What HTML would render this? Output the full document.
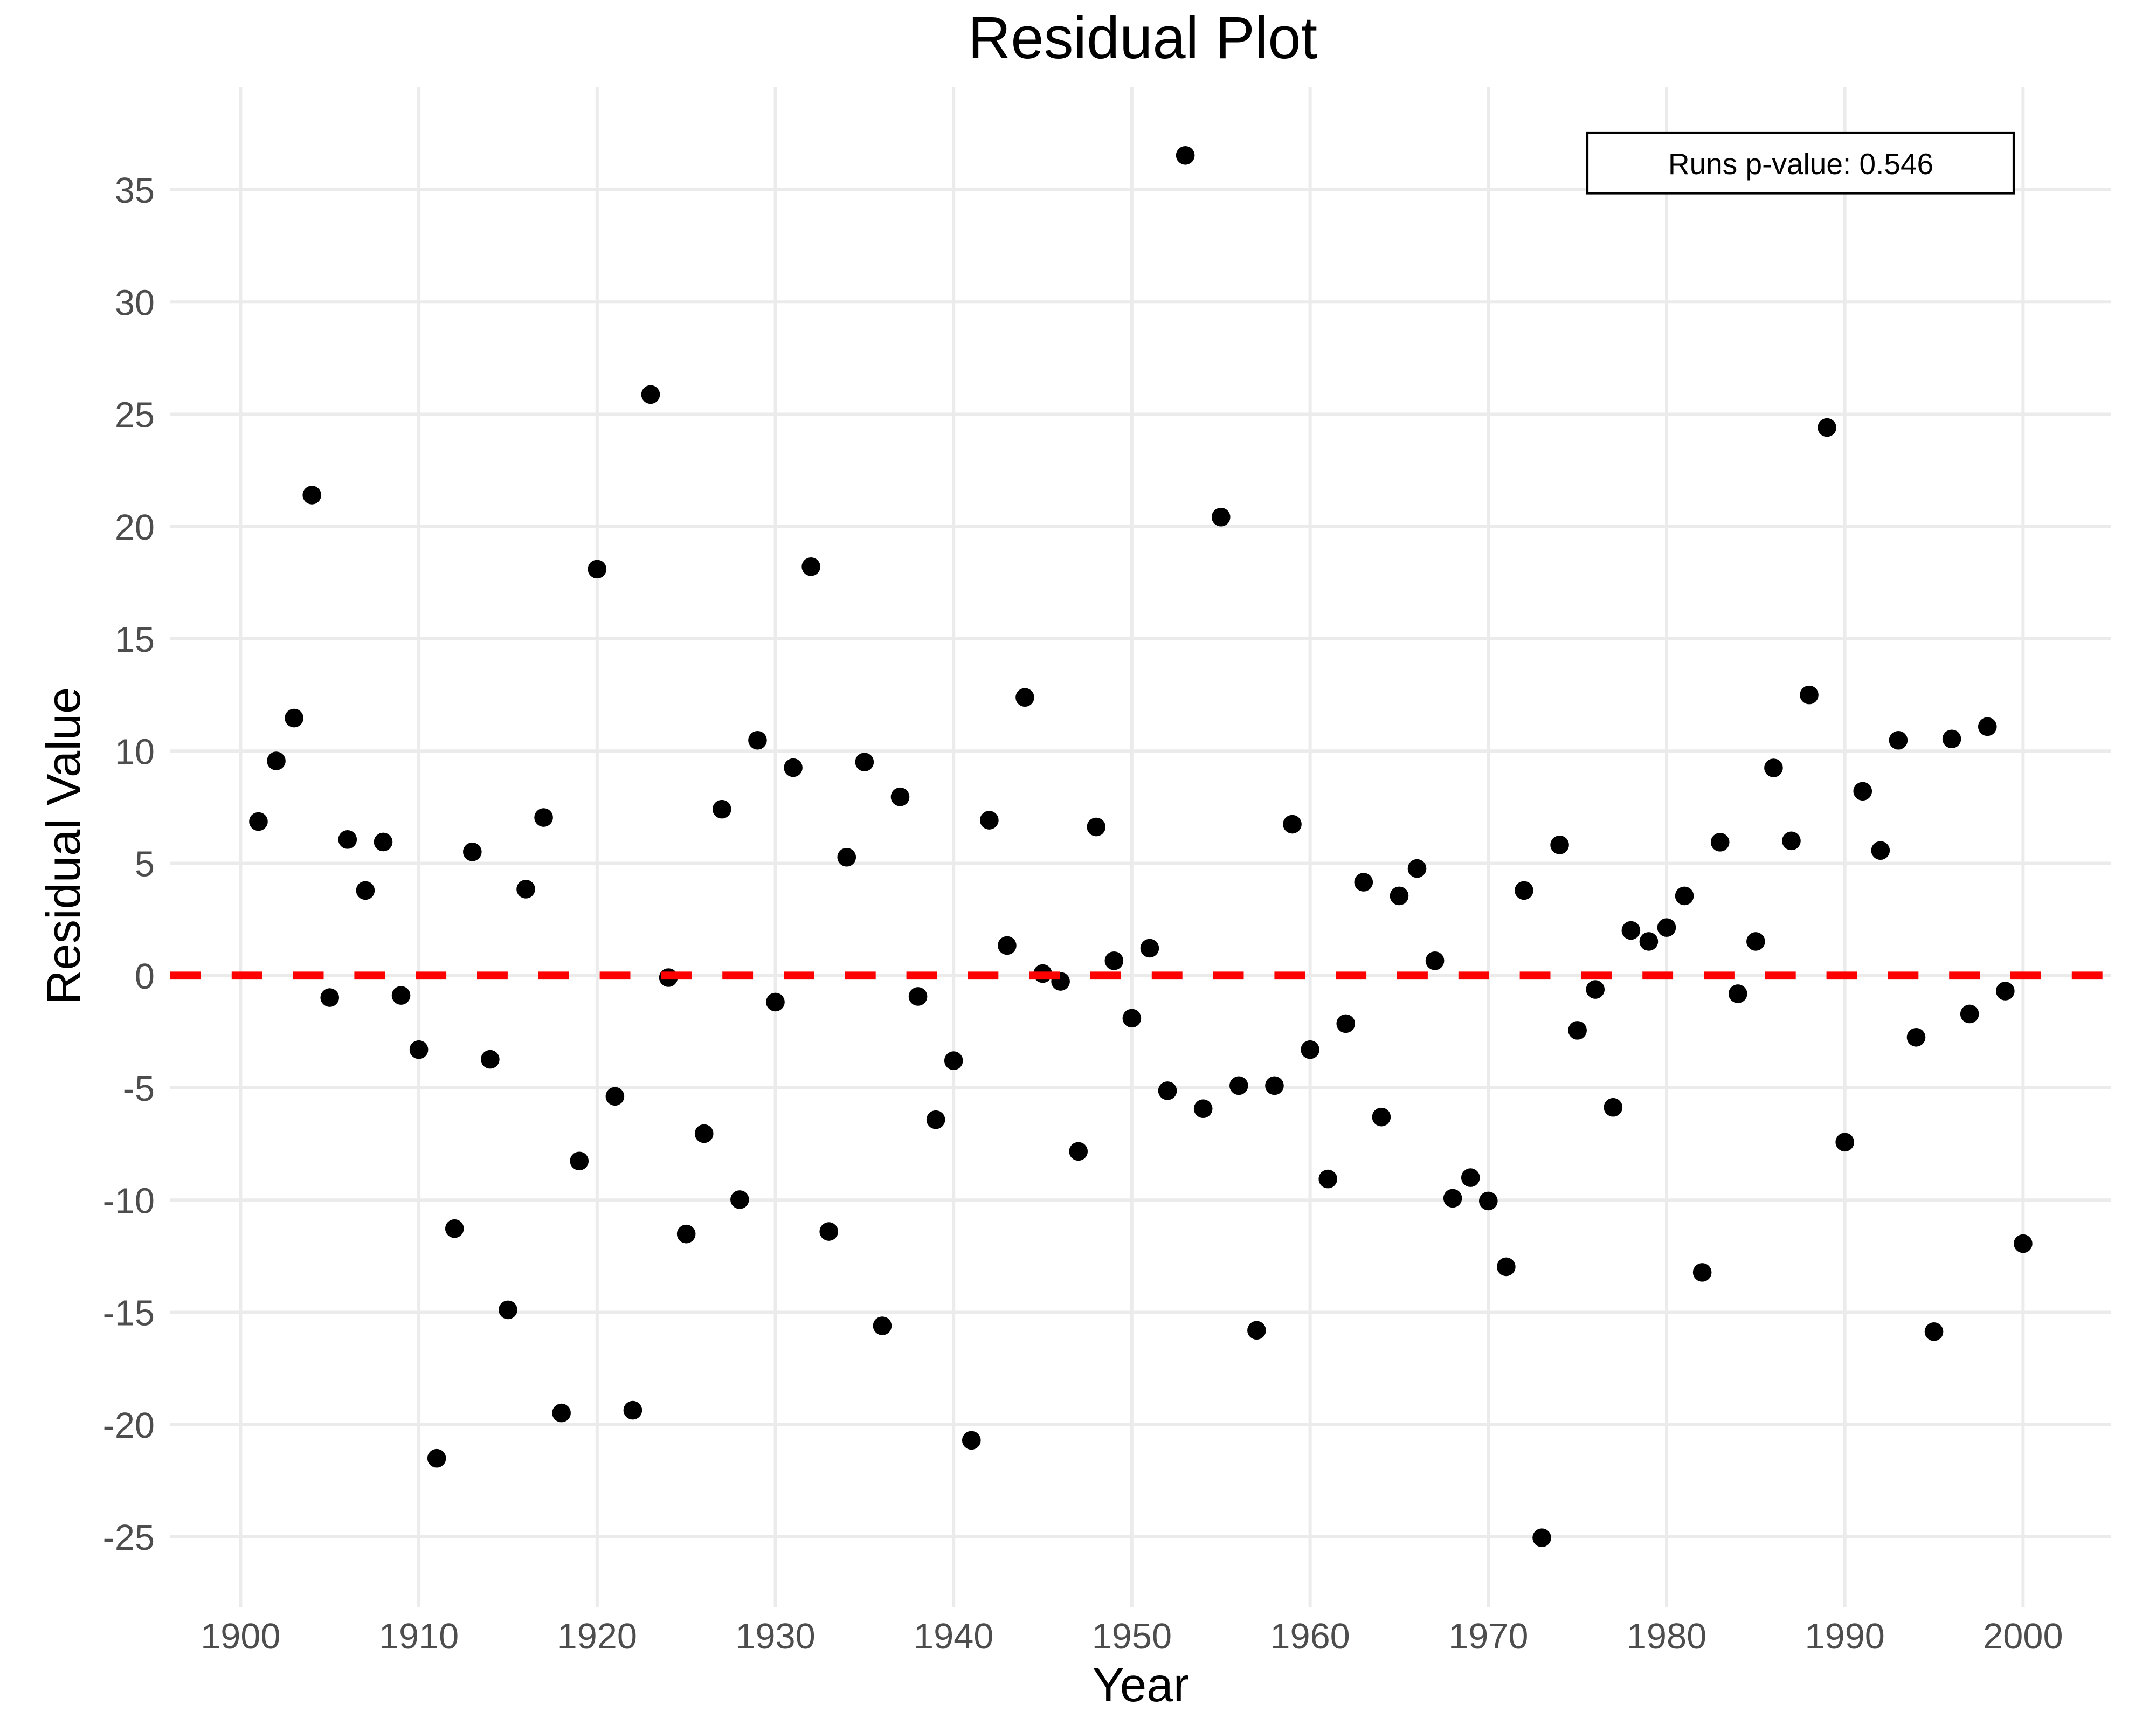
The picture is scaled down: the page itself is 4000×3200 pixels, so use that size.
<!DOCTYPE html>
<html lang="en">
<head>
<meta charset="utf-8">
<title>Residual Plot</title>
<style>
html,body{margin:0;padding:0;background:#fff;}
svg{display:block;}
text{font-family:"Liberation Sans",Arial,sans-serif;}
</style>
</head>
<body>
<svg id="chart" xmlns="http://www.w3.org/2000/svg" width="4000" height="3200" viewBox="0 0 4000 3200">
<rect x="0" y="0" width="4000" height="3200" fill="#ffffff"/>
<g id="grid"></g>
<g id="points"></g>
<g id="reference"></g>
<g id="xticks"></g>
<g id="yticks"></g>
<text x="2120" y="108" font-size="110" text-anchor="middle" fill="#000000">Residual Plot</text>
<text x="2116.5" y="3156" font-size="89" text-anchor="middle" fill="#000000">Year</text>
<text x="148" y="1569" font-size="88.5" text-anchor="middle" fill="#000000" transform="rotate(-90 148 1569)">Residual Value</text>
<g>
<rect x="2945" y="246" width="791" height="112.5" fill="#ffffff" stroke="#000000" stroke-width="4.2"/>
<text x="3341" y="323" font-size="55" text-anchor="middle" fill="#000000">Runs p-value: 0.546</text>
</g>
</svg>
<script>
const years = [1901,1902,1903,1904,1905,1906,1907,1908,1909,1910,
1911,1912,1913,1914,1915,1916,1917,1918,1919,1920,
1921,1922,1923,1924,1925,1926,1927,1928,1929,1930,
1931,1932,1933,1934,1935,1936,1937,1938,1939,1940,
1941,1942,1943,1944,1945,1946,1947,1948,1949,1950,
1951,1952,1953,1954,1955,1956,1957,1958,1959,1960,
1961,1962,1963,1964,1965,1966,1967,1968,1969,1970,
1971,1972,1973,1974,1975,1976,1977,1978,1979,1980,
1981,1982,1983,1984,1985,1986,1987,1988,1989,1990,
1991,1992,1993,1994,1995,1996,1997,1998,1999,2000];
const residuals = [6.86,9.56,11.47,21.4,-0.98,6.06,3.79,5.95,-0.885,-3.3,
-21.5,-11.27,5.51,-3.73,-14.89,3.85,7.04,-19.48,-8.26,18.1,
-5.38,-19.36,25.88,-0.09,-11.51,-7.04,7.41,-9.98,10.48,-1.18,
9.26,18.21,-11.4,5.27,9.51,-15.6,7.96,-0.93,-6.42,-3.79,
-20.7,6.92,1.34,12.39,0.09,-0.26,-7.83,6.62,0.66,-1.9,
1.22,-5.13,36.53,-5.93,20.42,-4.9,-15.8,-4.9,6.74,-3.3,
-9.06,-2.14,4.16,-6.3,3.55,4.77,0.66,-9.92,-9,-10.04,
-12.97,3.79,-25.04,5.82,-2.44,-0.62,-5.87,2.01,1.52,2.14,
3.55,-13.22,5.94,-0.81,1.52,9.25,6,12.5,24.41,-7.42,
8.21,5.57,10.48,-2.75,-15.86,10.54,-1.71,11.09,-0.69,-11.94];
const xTickValues = [1900,1910,1920,1930,1940,1950,1960,1970,1980,1990,2000];
const yTickValues = [-25,-20,-15,-10,-5,0,5,10,15,20,25,30,35];
const referenceValue = 0;

const SVG_NS = 'http://www.w3.org/2000/svg';
const panelLeft = 316, panelRight = 3917, panelTop = 161, panelBottom = 2981;
function xScale(year) { return 446.4 + (year - 1900) * 33.07; }
function yScale(value) { return 352 + (35 - value) * 41.65; }
function make(tag, attrs, parent) {
  const el = document.createElementNS(SVG_NS, tag);
  for (const k in attrs) el.setAttribute(k, attrs[k]);
  parent.appendChild(el);
  return el;
}
const gridGroup = document.getElementById('grid');
const xTickGroup = document.getElementById('xticks');
const yTickGroup = document.getElementById('yticks');
const pointGroup = document.getElementById('points');
const refGroup = document.getElementById('reference');

yTickValues.forEach(function (v) {
  const line = make('line', {x1: panelLeft, x2: panelRight, y1: yScale(v), y2: yScale(v), stroke: '#EBEBEB', 'stroke-width': 5.93}, gridGroup);
  
  
  const label = make('text', {x: 287, y: yScale(v) + 24, 'font-size': 66.7, 'text-anchor': 'end', fill: '#4D4D4D'}, yTickGroup);
  label.textContent = String(v);
  
  
});
xTickValues.forEach(function (v) {
  const line = make('line', {x1: xScale(v), x2: xScale(v), y1: panelTop, y2: panelBottom, stroke: '#EBEBEB', 'stroke-width': 5.93}, gridGroup);
  
  
  const label = make('text', {x: xScale(v), y: 3058, 'font-size': 66.7, 'text-anchor': 'middle', fill: '#4D4D4D'}, xTickGroup);
  label.textContent = String(v);
  
  
});
years.forEach(function (year, i) {
  const dot = make('circle', {cx: xScale(year), cy: yScale(residuals[i]), r: 17.3, fill: '#000000'}, pointGroup);
  
  
});
const refLine = make('line', {x1: panelLeft, x2: panelRight, y1: yScale(referenceValue), y2: yScale(referenceValue), stroke: '#FF0000', 'stroke-width': 14.7, 'stroke-dasharray': '56.9 56.9'}, refGroup);


</script>
</body>
</html>
